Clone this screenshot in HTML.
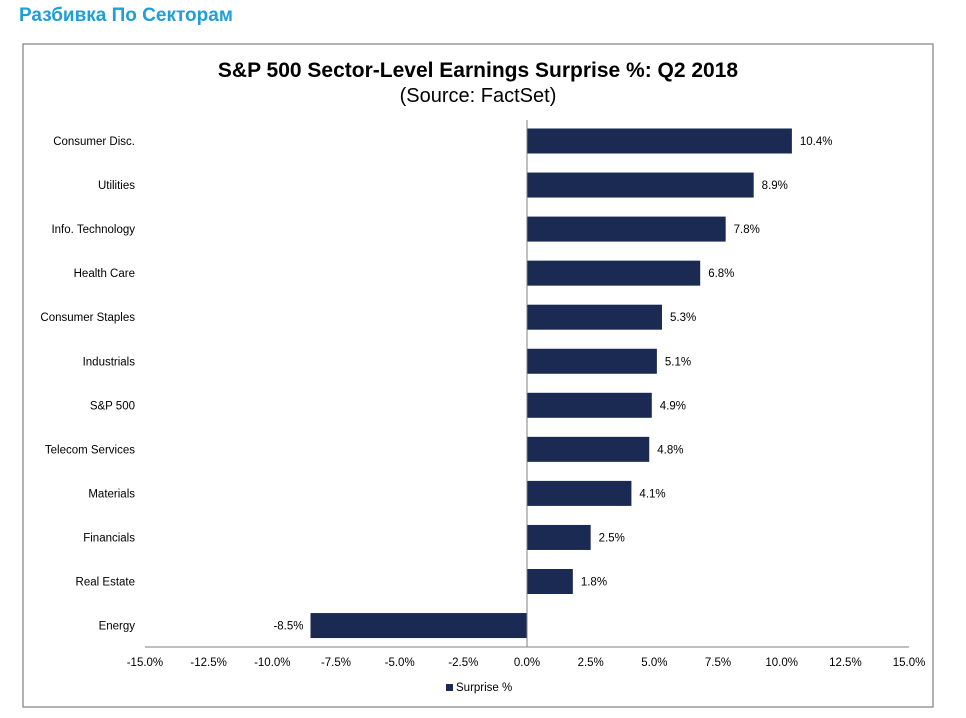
<!DOCTYPE html>
<html><head><meta charset="utf-8"><style>
body{margin:0;background:#fff;width:966px;height:718px;overflow:hidden;font-family:"Liberation Sans",Arial,sans-serif}
#hdr{position:absolute;left:19px;top:5px;font-size:19px;font-weight:bold;color:#1ea0d6}
svg{position:absolute;left:0;top:0}
</style></head><body>
<div id="hdr">Разбивка По Секторам</div>
<svg id="c" width="966" height="718">
<rect x="23" y="44" width="910" height="663" fill="#fff" stroke="#7f7f7f" stroke-width="1.2"/>
<text x="478" y="77" text-anchor="middle" font-size="21" font-weight="bold">S&amp;P 500 Sector-Level Earnings Surprise %: Q2 2018</text>
<text x="478" y="102" text-anchor="middle" font-size="20">(Source: FactSet)</text>
</svg>
<script>
const categories=["Consumer Disc.","Utilities","Info. Technology","Health Care","Consumer Staples","Industrials","S&P 500","Telecom Services","Materials","Financials","Real Estate","Energy"];
const values=[10.4,8.9,7.8,6.8,5.3,5.1,4.9,4.8,4.1,2.5,1.8,-8.5];
const ticks=[-15,-12.5,-10,-7.5,-5,-2.5,0,2.5,5,7.5,10,12.5,15];
const svg=document.getElementById('c');const NS="http://www.w3.org/2000/svg";
const x=v=>527+v*25.47;const y=i=>141+i*44.05;
function mk(t,a,txt){const e=document.createElementNS(NS,t);for(const k in a)e.setAttribute(k,a[k]);if(txt!==undefined)e.textContent=txt;svg.appendChild(e);return e;}
categories.forEach((c,i)=>{const v=values[i];
const b=mk('rect',{x:Math.min(x(0),x(v)),y:y(i)-12.5,width:Math.abs(x(v)-x(0)),height:25,fill:'#1b2a52'});


const l=mk('text',{x:135,y:y(i)+4,'text-anchor':'end','font-size':11.5,fill:'#000'},c);


const vl=mk('text',{x:v>=0?x(v)+8:x(v)-7,y:y(i)+4,'text-anchor':v>=0?'start':'end','font-size':11.5},v.toFixed(1)+'%');


});
const zl=mk('line',{x1:x(0),x2:x(0),y1:120,y2:647,stroke:'#808080','stroke-width':1});


const ax=mk('line',{x1:x(-15),x2:x(15),y1:647,y2:647,stroke:'#808080','stroke-width':1});


ticks.forEach(t=>{const e=mk('text',{x:x(t),y:666,'text-anchor':'middle','font-size':11.5},t.toFixed(1)+'%');

});
const lg=mk('rect',{x:446,y:684,width:7,height:7,fill:'#1b2a52'});


const lt=mk('text',{x:456,y:691,'font-size':11.5},'Surprise %');


</script>
</body></html>
